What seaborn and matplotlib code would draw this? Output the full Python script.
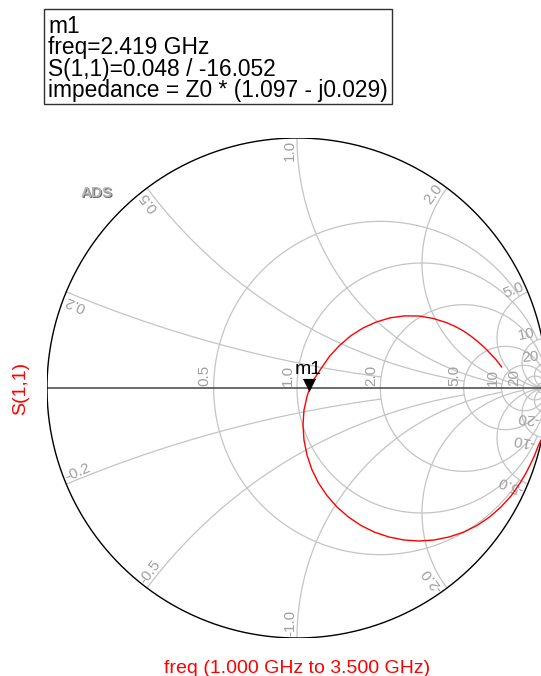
import numpy as np
import matplotlib
matplotlib.use("Agg")
import matplotlib.pyplot as plt
from matplotlib.patches import Rectangle
import seaborn as sns
import pandas as pd

sns.set_theme(style="white")
plt.rcParams["font.family"] = ["Liberation Sans", "DejaVu Sans"]

# ---- S(1,1) trace, reflection coefficient (real, imag), 1.000 GHz -> 3.500 GHz ----
s11_re = [0.8188, 0.7976, 0.7736, 0.7488, 0.7220, 0.6940, 0.6640, 0.6316,
          0.5976, 0.5440, 0.4880, 0.4304, 0.3732, 0.3172, 0.2640, 0.2144,
          0.1700, 0.1300, 0.0964, 0.0632, 0.0416, 0.0280, 0.0240, 0.0280,
          0.0400, 0.0592, 0.0860, 0.1200, 0.1600, 0.2056, 0.2560, 0.3104,
          0.3680, 0.4276, 0.4880, 0.5484, 0.6080, 0.6656, 0.7200, 0.7704,
          0.8160, 0.8568, 0.8916, 0.9128, 0.9316, 0.9496, 0.9648, 0.9764]
s11_im = [0.0836, 0.1116, 0.1376, 0.1632, 0.1864, 0.2088, 0.2292, 0.2468,
          0.2616, 0.2784, 0.2880, 0.2884, 0.2808, 0.2640, 0.2400, 0.2084,
          0.1700, 0.1268, 0.0780, 0.0280, -0.0276, -0.0876, -0.1480, -0.2084,
          -0.2680, -0.3256, -0.3800, -0.4304, -0.4760, -0.5160, -0.5500,
          -0.5768, -0.5960, -0.6080, -0.6120, -0.6080, -0.5960, -0.5768,
          -0.5500, -0.5160, -0.4760, -0.4308, -0.3812, -0.3460, -0.3096,
          -0.2716, -0.2320, -0.2080]

# ---- marker readout ----
marker_name = "m1"
marker_freq = "2.419 GHz"
marker_mag = 0.048
marker_ang = -16.052
marker_z = (1.097, -0.029)

# ---- Smith grid values ----
r_values = [0.5, 1.0, 2.0, 5.0, 10.0, 20.0, 50.0]
r_labels = ["0.5", "1.0", "2.0", "5.0", "10", "20", ""]
x_values = [0.2, 0.5, 1.0, 2.0, 5.0, 10.0, 20.0]
x_labels = ["0.2", "0.5", "1.0", "2.0", "5.0", "10", "20"]

W, H = 541, 676
CX, CY, R = 297.0, 388.0, 250.0
GRID = "#c4c4c4"
GRID_TXT = "#a0a0a0"
px = 1.0 / R  # one pixel in chart units

fig = plt.figure(figsize=(W / 100, H / 100), dpi=100)
ax = fig.add_axes([(CX - R) / W, (H - CY - R) / H, 2 * R / W, 2 * R / H])


def to_gamma(z):
    return (z - 1) / (z + 1)


# constant-resistance circles, cut at |x| = 10 r
for r in r_values:
    xmax = 10 * r
    u = np.linspace(-np.arctan(xmax), np.arctan(xmax), 800)
    g = to_gamma(r + 1j * np.tan(u))
    ax.plot(g.real, g.imag, color=GRID, lw=0.9, zorder=1)

# constant-reactance arcs, cut at r = 10 |x|
for xv in x_values:
    rmax = 10 * xv
    u = np.linspace(0, np.arctan(rmax), 800)
    for s in (1, -1):
        g = to_gamma(np.tan(u) + 1j * s * xv)
        ax.plot(g.real, g.imag, color=GRID, lw=0.9, zorder=1)

# outer circle and real axis
t = np.linspace(0, 2 * np.pi, 1000)
ax.plot(np.cos(t), np.sin(t), color="black", lw=1.0, zorder=3)
ax.plot([-1, 1], [0, 0], color="#505050", lw=1.2, zorder=2)

# resistance labels along the real axis
for r, lab in zip(r_values, r_labels):
    if not lab:
        continue
    gx = (r - 1) / (r + 1)
    ax.text(gx - 2 * px, 2 * px, lab, rotation=90, rotation_mode="anchor",
            ha="left", va="bottom", fontsize=11, color=GRID_TXT, zorder=4)

# reactance labels around the rim (the crowded ones near the right are pulled in)
for xv, lab in zip(x_values, x_labels):
    g = to_gamma(1j * xv)
    th = np.degrees(np.angle(g))
    p = 0.992 if xv < 10 else 0.975
    ax.text(p * g.real, p * g.imag, lab, rotation=th, rotation_mode="anchor",
            ha="right", va="bottom", fontsize=11, color=GRID_TXT, zorder=4)
    gc = np.conj(g)
    ax.text(p * gc.real, p * gc.imag, "-" + lab, rotation=-th + 180,
            rotation_mode="anchor", ha="left", va="bottom", fontsize=11,
            color=GRID_TXT, zorder=4)

# S(1,1) trace
trace = pd.DataFrame({"re": s11_re, "im": s11_im})
sns.lineplot(data=trace, x="re", y="im", sort=False, estimator=None,
             color="red", lw=1.0, ax=ax, zorder=5)

# marker m1
mg = marker_mag * np.exp(1j * np.radians(marker_ang))
ax.scatter([mg.real], [mg.imag + 6.5 * px], marker="v", s=90, color="black",
           zorder=6, linewidths=0)
ax.text(mg.real, mg.imag + 13 * px, marker_name, ha="center", va="bottom",
        fontsize=14, color="black", zorder=7)

# watermark
ax.text(-0.8 + 1 * px, 0.78 - 1 * px, "ADS", fontsize=11, fontweight="bold",
        color="#6a6a6a", ha="center", va="center", zorder=0)
ax.text(-0.8, 0.78, "ADS", fontsize=11, fontweight="bold",
        color="#b4b4b4", ha="center", va="center", zorder=0)

ax.set_xlim(-1, 1)
ax.set_ylim(-1, 1)
ax.set_aspect("equal")
ax.axis("off")

# axis titles
fig.text(21 / W, 1 - 388 / H, "S(1,1)", rotation=90, color="red", fontsize=14,
         ha="center", va="center")
fig.text(CX / W, 1 - 673 / H, "freq (1.000 GHz to 3.500 GHz)", color="red",
         fontsize=14, ha="center", va="baseline")

# marker readout box
fig.add_artist(Rectangle((44 / W, 1 - 104 / H), (392 - 44) / W, (104 - 9) / H,
                         transform=fig.transFigure, fill=False,
                         ec="#303030", lw=1.0))
lines = [
    marker_name,
    f"freq={marker_freq}",
    f"S(1,1)={marker_mag:.3f} / {marker_ang:.3f}",
    f"impedance = Z0 * ({marker_z[0]:.3f} - j{abs(marker_z[1]):.3f})",
]
for i, s in enumerate(lines):
    fig.text(48.5 / W, 1 - (33 + 21.3 * i) / H, s, fontsize=16.4,
             color="black", ha="left", va="baseline")

fig.savefig("out.png", dpi=100)
